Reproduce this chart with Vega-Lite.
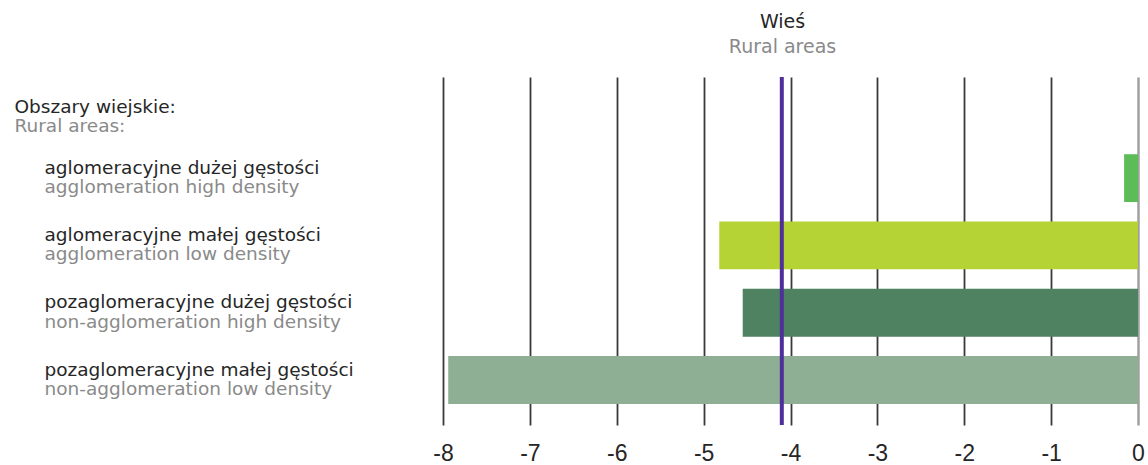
{
  "$schema": "https://vega.github.io/schema/vega-lite/v6.json",
  "width": 695,
  "height": 348,
  "padding": {"left": 14, "top": 13, "right": 3, "bottom": 0},
  "background": "white",
  "config": {"view": {"stroke": null}},
  "title": {
    "text": "Wieś",
    "subtitle": "Rural areas",
    "anchor": "middle",
    "dx": -8,
    "offset": 18,
    "font": "DejaVu Sans",
    "fontSize": 19,
    "fontWeight": "normal",
    "color": "#262626",
    "subtitleFont": "DejaVu Sans",
    "subtitleFontSize": 19,
    "subtitleColor": "#8a8a8a",
    "subtitlePadding": 6
  },
  "datasets": {
    "bars": [
      {"k": "aglomeracyjne dużej gęstości|agglomeration high density", "v": -0.16},
      {"k": "aglomeracyjne małej gęstości|agglomeration low density", "v": -4.82},
      {"k": "pozaglomeracyjne dużej gęstości|non-agglomeration high density", "v": -4.55},
      {"k": "pozaglomeracyjne małej gęstości|non-agglomeration low density", "v": -7.94}
    ],
    "ref": [{"v": -4.1}]
  },
  "layer": [
    {
      "data": {"name": "bars"},
      "mark": {"type": "bar"},
      "encoding": {
        "x": {
          "field": "v",
          "type": "quantitative",
          "scale": {"domain": [-8, 0], "nice": false, "zero": false},
          "axis": {
            "title": null,
            "values": [-8, -7, -6, -5, -4, -3, -2, -1, 0],
            "labelExpr": "'' + datum.value",
            "domain": false,
            "ticks": false,
            "grid": true,
            "gridColor": {"condition": {"test": "datum.value === 0", "value": "#a0a0a0"}, "value": "#3a3a3a"},
            "gridWidth": {"condition": {"test": "datum.value === 0", "value": 2.5}, "value": 1.8},
            "gridOpacity": 1,
            "labelFont": "Liberation Sans",
            "labelFontSize": 23,
            "labelColor": "#262626",
            "labelPadding": 17,
            "labelFlush": false
          }
        },
        "y": {
          "field": "k",
          "type": "nominal",
          "sort": null,
          "scale": {
            "domain": [
              "Obszary wiejskie:|Rural areas:",
              "aglomeracyjne dużej gęstości|agglomeration high density",
              "aglomeracyjne małej gęstości|agglomeration low density",
              "pozaglomeracyjne dużej gęstości|non-agglomeration high density",
              "pozaglomeracyjne małej gęstości|non-agglomeration low density"
            ],
            "paddingInner": 0.289,
            "paddingOuter": 0.23,
            "align": 0.32
          },
          "axis": {
            "orient": "left",
            "title": null,
            "domain": false,
            "ticks": false,
            "grid": false,
            "labelAlign": "left",
            "labelBaseline": "alphabetic",
            "labelOverlap": false,
            "labelBound": false,
            "labelLimit": 0,
            "labelPadding": {"condition": {"test": "indexof(datum.value, 'Obszary') === 0", "value": 429}, "value": 399},
            "labelOffset": {"condition": {"test": "indexof(datum.value, 'Obszary') === 0", "value": 2}, "value": -4.5},
            "labelExpr": "split(datum.value, '|')[0]",
            "labelFont": "DejaVu Sans",
            "labelFontSize": 18.5,
            "labelColor": "#262626"
          }
        },
        "color": {
          "field": "k",
          "type": "nominal",
          "legend": null,
          "scale": {
            "domain": [
              "aglomeracyjne dużej gęstości|agglomeration high density",
              "aglomeracyjne małej gęstości|agglomeration low density",
              "pozaglomeracyjne dużej gęstości|non-agglomeration high density",
              "pozaglomeracyjne małej gęstości|non-agglomeration low density"
            ],
            "range": ["#5dbb58", "#b5d334", "#4e8260", "#8faf94"]
          }
        }
      }
    },
    {
      "data": {"name": "bars"},
      "mark": {"type": "bar", "opacity": 0},
      "encoding": {
        "x": {"field": "v", "type": "quantitative"},
        "y": {
          "field": "k",
          "type": "nominal",
          "sort": null,
          "axis": {
            "orient": "left",
            "title": null,
            "domain": false,
            "ticks": false,
            "grid": false,
            "labelAlign": "left",
            "labelBaseline": "alphabetic",
            "labelOverlap": false,
            "labelBound": false,
            "labelLimit": 0,
            "labelPadding": {"condition": {"test": "indexof(datum.value, 'Obszary') === 0", "value": 429}, "value": 399},
            "labelOffset": {"condition": {"test": "indexof(datum.value, 'Obszary') === 0", "value": 21.5}, "value": 15},
            "labelExpr": "split(datum.value, '|')[1]",
            "labelFont": "DejaVu Sans",
            "labelFontSize": 18.5,
            "labelColor": "#8a8a8a"
          }
        }
      }
    },
    {
      "data": {"name": "ref"},
      "mark": {"type": "rule", "color": "#4f2f99", "strokeWidth": 4},
      "encoding": {
        "x": {"field": "v", "type": "quantitative"}
      }
    }
  ],
  "resolve": {"axis": {"y": "independent"}}
}
